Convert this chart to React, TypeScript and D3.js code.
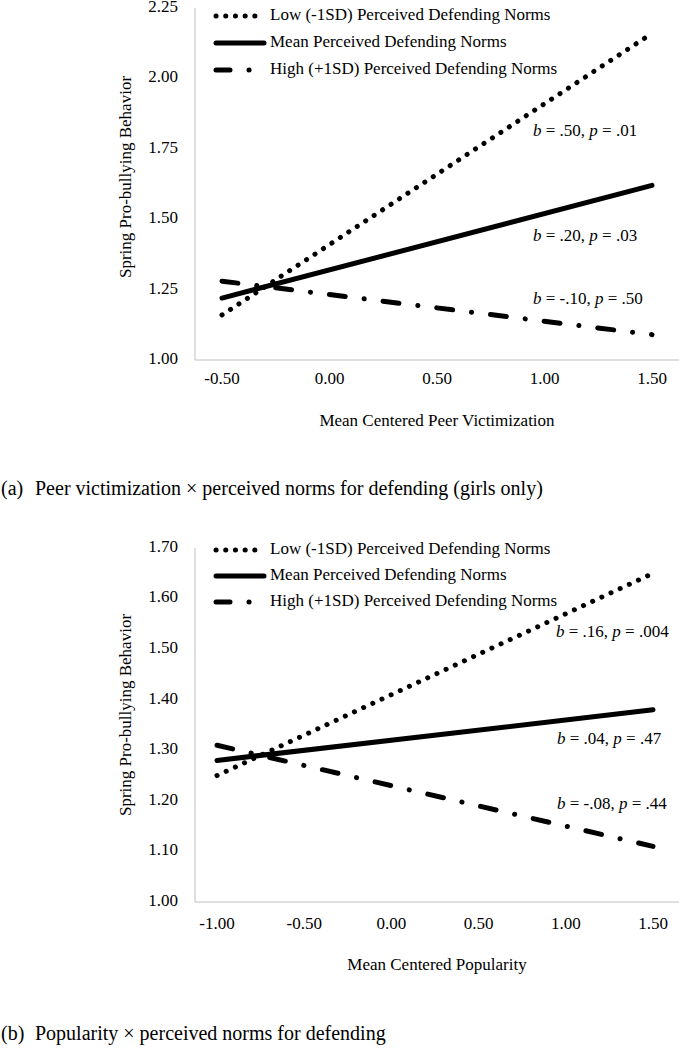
import React from "react";
import * as d3 from "d3";

// Panel (a) data
const xTicksA = [-0.5, 0, 0.5, 1, 1.5];
const yTicksA = [1.0, 1.25, 1.5, 1.75, 2.0, 2.25];
const xEndsA = [-0.5, 1.5];
const lowA = [1.16, 2.16];
const meanA = [1.22, 1.62];
const highA = [1.28, 1.09];
const annotA = ["b = .50, p = .01", "b = .20, p = .03", "b = -.10, p = .50"];

// Panel (b) data
const xTicksB = [-1, -0.5, 0, 0.5, 1, 1.5];
const yTicksB = [1.0, 1.1, 1.2, 1.3, 1.4, 1.5, 1.6, 1.7];
const xEndsB = [-1, 1.5];
const lowB = [1.25, 1.65];
const meanB = [1.28, 1.38];
const highB = [1.31, 1.11];
const annotB = ["b = .16, p = .004", "b = .04, p = .47", "b = -.08, p = .44"];

const legendLabels = [
  "Low (-1SD) Perceived Defending Norms",
  "Mean Perceived Defending Norms",
  "High (+1SD) Perceived Defending Norms",
];

const FONT = "'Liberation Serif', 'Times New Roman', serif";
const dashStyles = ["0.1,10", "", "16,19,0.1,19"];

type PanelProps = {
  xTicks: number[];
  yTicks: number[];
  xEnds: number[];
  series: number[][];
  annots: string[];
  annotPos: { x: number; y: number }[];
  xRange: [number, number];
  yRange: [number, number];
  axisLeft: number;
  axisRight: number;
  legendY: number[];
  xTitle: string;
  xTitleY: number;
  tickLabelY: number;
  yTitleCenter: number;
};

function Annot({ text, x, y }: { text: string; x: number; y: number }) {
  const m = text.match(/^b( = [^,]+, )p( = .+)$/);
  const a = m ? m[1] : "";
  const b = m ? m[2] : "";
  return (
    <text x={x} y={y} fontFamily={FONT} fontSize={17} fill="#000" dominantBaseline="middle">
      <tspan fontStyle="italic">b</tspan>
      <tspan>{a}</tspan>
      <tspan fontStyle="italic">p</tspan>
      <tspan>{b}</tspan>
    </text>
  );
}

function Panel(p: PanelProps) {
  const x = d3.scaleLinear().domain([p.xTicks[0], p.xTicks[p.xTicks.length - 1]]).range(p.xRange);
  const y = d3.scaleLinear().domain([p.yTicks[0], p.yTicks[p.yTicks.length - 1]]).range(p.yRange);
  const line = d3
    .line<[number, number]>()
    .x((d) => x(d[0]))
    .y((d) => y(d[1]));
  const bottom = p.yRange[0];
  return (
    <g>
      <line x1={p.axisLeft} x2={p.axisLeft} y1={p.yRange[1]} y2={bottom} stroke="#bfbfbf" strokeWidth={1} />
      <line x1={p.axisLeft} x2={p.axisRight} y1={bottom} y2={bottom} stroke="#bfbfbf" strokeWidth={1} />
      {p.yTicks.map((t) => (
        <text key={t} x={178} y={y(t)} textAnchor="end" dominantBaseline="middle" fontFamily={FONT} fontSize={17}>
          {t.toFixed(2)}
        </text>
      ))}
      {p.xTicks.map((t) => (
        <text key={t} x={x(t)} y={p.tickLabelY} textAnchor="middle" dominantBaseline="middle" fontFamily={FONT} fontSize={17}>
          {t.toFixed(2)}
        </text>
      ))}
      <text
        transform={`translate(127,${p.yTitleCenter}) rotate(-90)`}
        textAnchor="middle"
        dominantBaseline="middle"
        fontFamily={FONT}
        fontSize={17}
      >
        Spring Pro-bullying Behavior
      </text>
      <text x={437} y={p.xTitleY} textAnchor="middle" dominantBaseline="middle" fontFamily={FONT} fontSize={17}>
        {p.xTitle}
      </text>
      {p.series.map((s, i) => (
        <path
          key={i}
          d={line([
            [p.xEnds[0], s[0]],
            [p.xEnds[1], s[1]],
          ]) || ""}
          fill="none"
          stroke="#000"
          strokeWidth={5}
          strokeLinecap="round"
          strokeDasharray={dashStyles[i] || undefined}
        />
      ))}
      {legendLabels.map((l, i) => (
        <g key={l}>
          <line
            x1={216}
            x2={i === 2 ? 263 : 264}
            y1={p.legendY[i]}
            y2={p.legendY[i]}
            stroke="#000"
            strokeWidth={5}
            strokeLinecap="round"
            strokeDasharray={i === 0 ? "0.1,9.6" : i === 2 ? "14,19,0.1,19" : undefined}
          />
          <text x={270} y={p.legendY[i]} dominantBaseline="middle" fontFamily={FONT} fontSize={17}>
            {l}
          </text>
        </g>
      ))}
      {p.annots.map((a, i) => (
        <Annot key={a} text={a} x={p.annotPos[i].x} y={p.annotPos[i].y} />
      ))}
    </g>
  );
}

export default function App() {
  return (
    <svg
      width={679}
      height={1050}
      style={{ position: "absolute", left: 0, top: 0, background: "#fff" }}
    >
      <rect width={679} height={1050} fill="#fff" />
      <Panel
        xTicks={xTicksA}
        yTicks={yTicksA}
        xEnds={xEndsA}
        series={[lowA, meanA, highA]}
        annots={annotA}
        annotPos={[
          { x: 533, y: 132 },
          { x: 533, y: 237 },
          { x: 533, y: 300 },
        ]}
        xRange={[222, 652]}
        yRange={[360, 8]}
        axisLeft={195}
        axisRight={679}
        legendY={[16, 43, 70]}
        xTitle="Mean Centered Peer Victimization"
        xTitleY={422}
        tickLabelY={380}
        yTitleCenter={177}
      />
      <text x={1} y={490} dominantBaseline="middle" fontFamily={FONT} fontSize={20}>
        <tspan>(a)</tspan>
        <tspan x={35}>Peer victimization × perceived norms for defending (girls only)</tspan>
      </text>
      <Panel
        xTicks={xTicksB}
        yTicks={yTicksB}
        xEnds={xEndsB}
        series={[lowB, meanB, highB]}
        annots={annotB}
        annotPos={[
          { x: 556, y: 633 },
          { x: 557, y: 740 },
          { x: 557, y: 805 },
        ]}
        xRange={[217, 653]}
        yRange={[902, 548]}
        axisLeft={195}
        axisRight={679}
        legendY={[550, 576, 602]}
        xTitle="Mean Centered Popularity"
        xTitleY={966}
        tickLabelY={925}
        yTitleCenter={715}
      />
      <text x={1} y={1035} dominantBaseline="middle" fontFamily={FONT} fontSize={20}>
        <tspan>(b)</tspan>
        <tspan x={35}>Popularity × perceived norms for defending</tspan>
      </text>
    </svg>
  );
}
